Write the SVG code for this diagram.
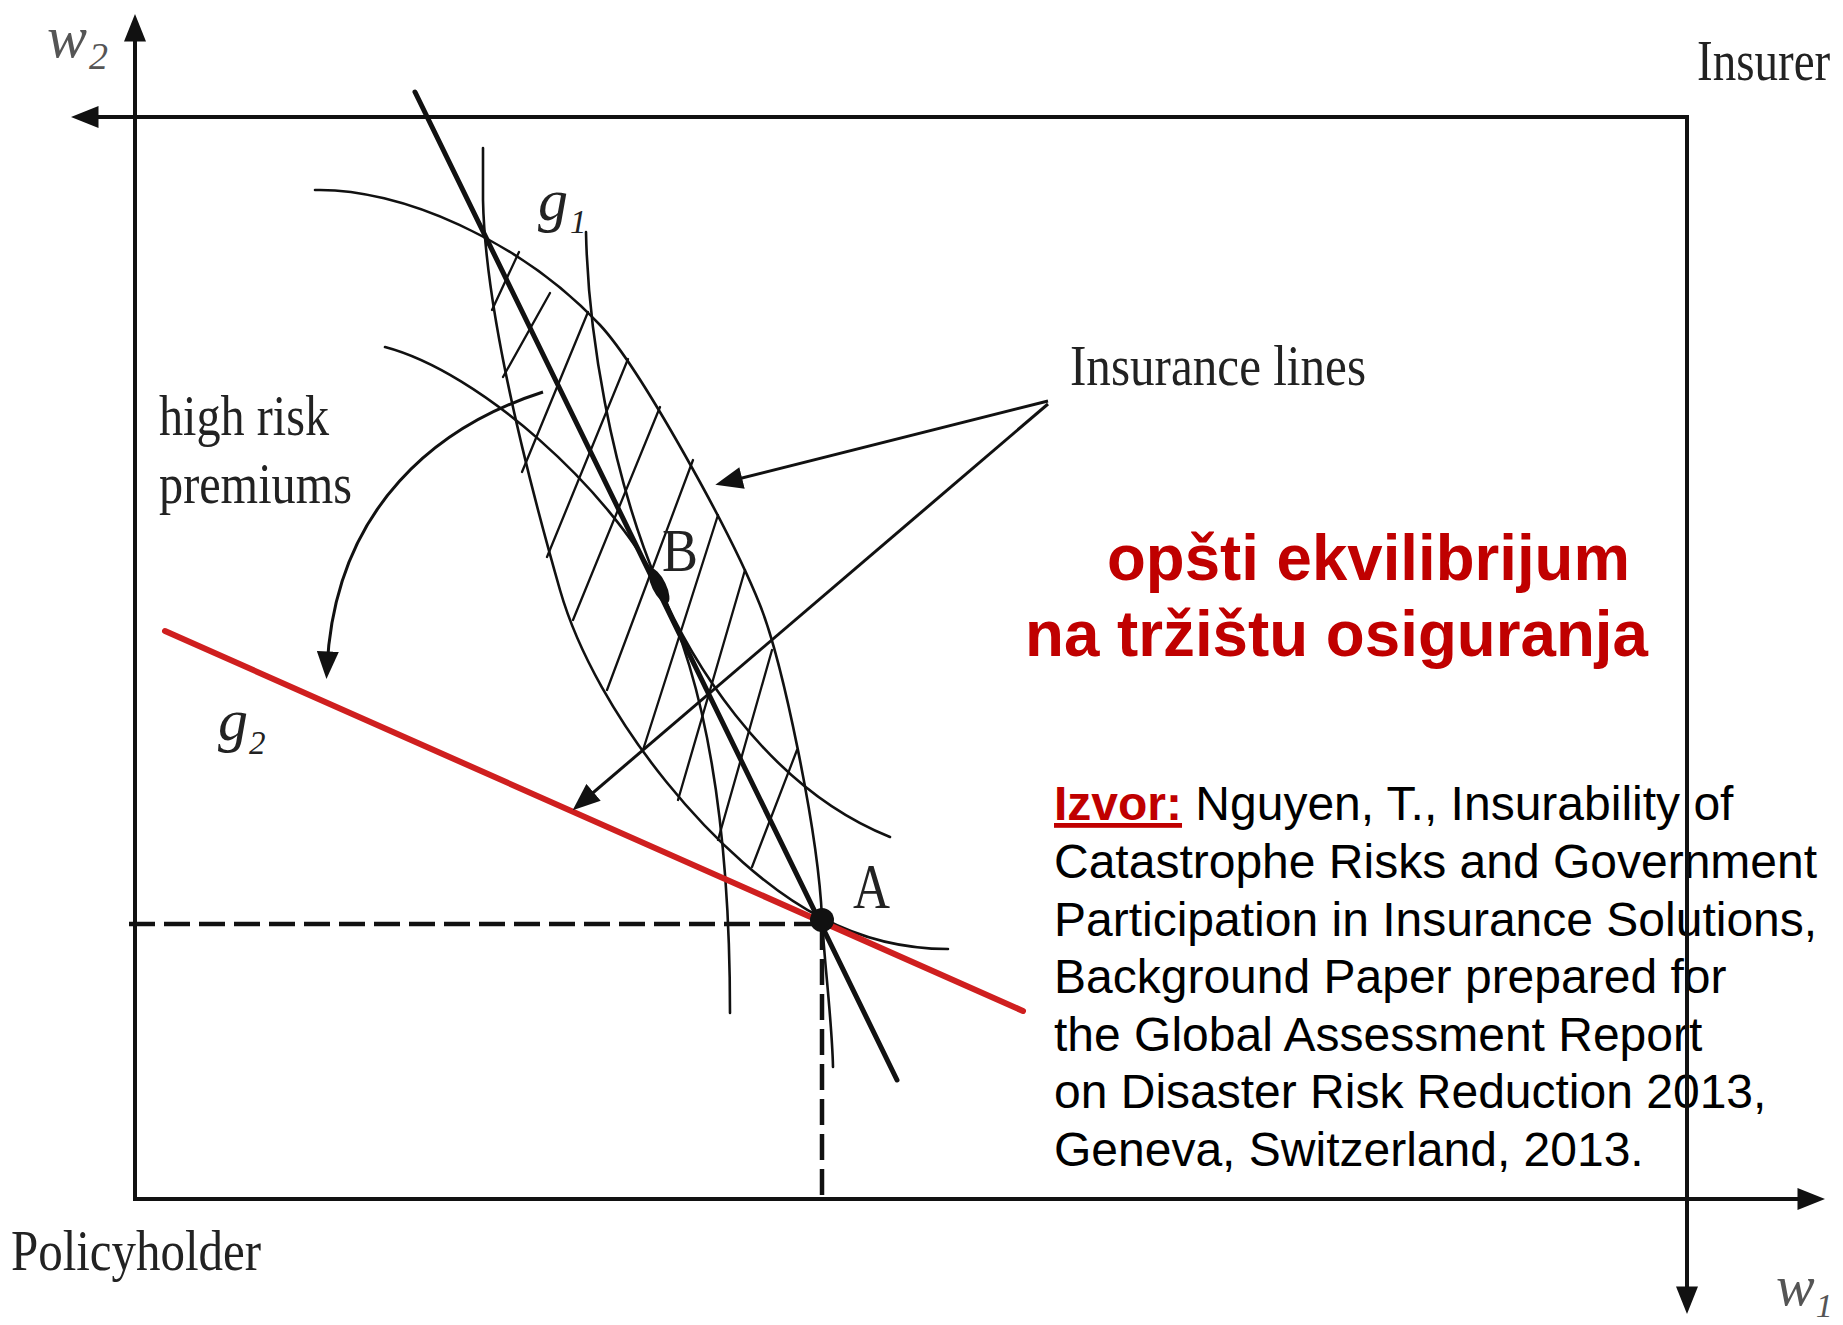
<svg xmlns="http://www.w3.org/2000/svg" width="1843" height="1325" viewBox="0 0 1843 1325">
<defs>
<marker id="ah" viewBox="0 0 10 8" markerWidth="28" markerHeight="22" refX="6" refY="4" orient="auto-start-reverse" markerUnits="userSpaceOnUse"><path d="M0,0 L10,4 L0,8 z" fill="#111"/></marker>
</defs>
<style>
.ax{fill:none;stroke:#111;stroke-width:4}
.cv{fill:none;stroke:#111;stroke-width:2.6;stroke-linecap:round}
.ht{fill:none;stroke:#111;stroke-width:2.3;stroke-linecap:round}
.thick{fill:none;stroke:#111;stroke-width:5;stroke-linecap:round}
.red{fill:none;stroke:#cf1f1f;stroke-width:6;stroke-linecap:round}
.dash{fill:none;stroke:#111;stroke-width:4.5;stroke-dasharray:26 9}
.con{fill:none;stroke:#111;stroke-width:3}
.serif{font-family:"Liberation Serif","Times New Roman",serif;fill:#222}
.it{font-style:italic}
.gray{fill:#555}
.sans{font-family:"Liberation Sans",Arial,sans-serif}
.title{font-weight:bold;fill:#c00000;font-size:64px}
.cite{font-size:48px;fill:#000}
.izvor{font-weight:bold;fill:#c00000;text-decoration:underline}
</style>
<rect width="1843" height="1325" fill="#fff"/>

<g id="axes">
<path class="ax" d="M135,25 L135,1199 L1814,1199" marker-start="url(#ah)" marker-end="url(#ah)"/>
<path class="ax" d="M82,117 L1687,117 L1687,1303" marker-start="url(#ah)" marker-end="url(#ah)" stroke="#222"/>
</g>

<g id="curves">
<path id="V1" class="cv" d="M483,148 L483,200 C485,300 520,450 560,590 C596,716 720,866 822,918 C870,943 915,949 948,949"/>
<path id="C1" class="cv" d="M315,190 C400,188 520,240 600,325 C640,368 730,530 760,605 C782,660 818,830 822,918 C824,960 832,1020 833,1067"/>
<path id="IB" class="cv" d="M385,347 C480,372 610,490 658,584 C700,670 730,800 730,1013"/>
<path id="PB" class="cv" d="M586,232 C588,330 610,470 658,584 C685,648 760,785 890,837"/>
</g>

<g id="hatch">
<path class="ht" d="M492,310 L519,252"/>
<path class="ht" d="M503,377 L550,293"/>
<path class="ht" d="M522,472 L588,312"/>
<path class="ht" d="M547,557 L628,359"/>
<path class="ht" d="M573,620 L660,407"/>
<path class="ht" d="M607,690 L693,460"/>
<path class="ht" d="M643,750 L718,515"/>
<path class="ht" d="M678,800 L745,570"/>
<path class="ht" d="M718,840 L772,650"/>
<path class="ht" d="M752,867 L797,750"/>
</g>

<g id="insurance-line">
<path class="thick" d="M415,92 L897,1080"/>
</g>

<g id="g2-line">
<path class="red" d="M165,631 L1023,1011"/>
</g>

<g id="dashed">
<path class="dash" d="M129,924 L822,924"/>
<path class="dash" d="M822,924 L822,1199"/>
</g>

<g id="connectors">
<path class="con" d="M1048,401 L726,482" marker-end="url(#ah)"/>
<path class="con" d="M1048,404 L581,803" marker-end="url(#ah)"/>
<path class="con" stroke-width="2.8" d="M543,392 C440,425 335,505 327,668" marker-end="url(#ah)"/>
</g>

<g id="point-B">
<ellipse cx="659" cy="586" rx="19" ry="7" transform="rotate(64 659 586)" fill="#111"/>
<text class="serif" x="662" y="571" font-size="62" textLength="36" lengthAdjust="spacingAndGlyphs" fill="#333">B</text>
</g>
<g id="point-A">
<circle cx="822" cy="920" r="12" fill="#111"/>
<text class="serif" x="853" y="908" font-size="64" textLength="37" lengthAdjust="spacingAndGlyphs">A</text>
</g>

<g id="labels">
<text class="serif it gray" x="47" y="57" font-size="60">w<tspan font-size="38" dx="2" dy="12">2</tspan></text>
<text class="serif it gray" x="1776" y="1305" font-size="58">w<tspan font-size="34" dx="1" dy="12">1</tspan></text>
<text class="serif" transform="translate(1697,80) scale(0.84,1)" font-size="56">Insurer</text>
<text class="serif" x="11" y="1270" font-size="56" textLength="250" lengthAdjust="spacingAndGlyphs">Policyholder</text>
<text class="serif" x="1070" y="385" font-size="56" textLength="296" lengthAdjust="spacingAndGlyphs">Insurance lines</text>
<text class="serif" x="159" y="435" font-size="56" textLength="170" lengthAdjust="spacingAndGlyphs">high risk</text>
<text class="serif" x="159" y="503" font-size="56" textLength="193" lengthAdjust="spacingAndGlyphs">premiums</text>
<text class="serif it" x="538" y="220" font-size="60">g<tspan font-size="33" dx="2" dy="13">1</tspan></text>
<text class="serif it" x="218" y="740" font-size="60">g<tspan font-size="33" dx="1" dy="14">2</tspan></text>
</g>

<g id="title">
<text class="sans title" x="1107" y="580" textLength="523" lengthAdjust="spacingAndGlyphs">opšti ekvilibrijum</text>
<text class="sans title" x="1025" y="656" textLength="623" lengthAdjust="spacingAndGlyphs">na tržištu osiguranja</text>
</g>

<g id="source">
<text class="sans cite" x="1054" y="820"><tspan class="izvor">Izvor:</tspan> Nguyen, T., Insurability of</text>
<text class="sans cite" x="1054" y="878">Catastrophe Risks and Government</text>
<text class="sans cite" x="1054" y="936">Participation in Insurance Solutions,</text>
<text class="sans cite" x="1054" y="993">Background Paper prepared for</text>
<text class="sans cite" x="1054" y="1051">the Global Assessment Report</text>
<text class="sans cite" x="1054" y="1108">on Disaster Risk Reduction 2013,</text>
<text class="sans cite" x="1054" y="1166">Geneva, Switzerland, 2013.</text>
</g>

<g id="axis-over">
<path class="ax" d="M1687,700 L1687,1200" stroke="#222"/>
</g>
</svg>
